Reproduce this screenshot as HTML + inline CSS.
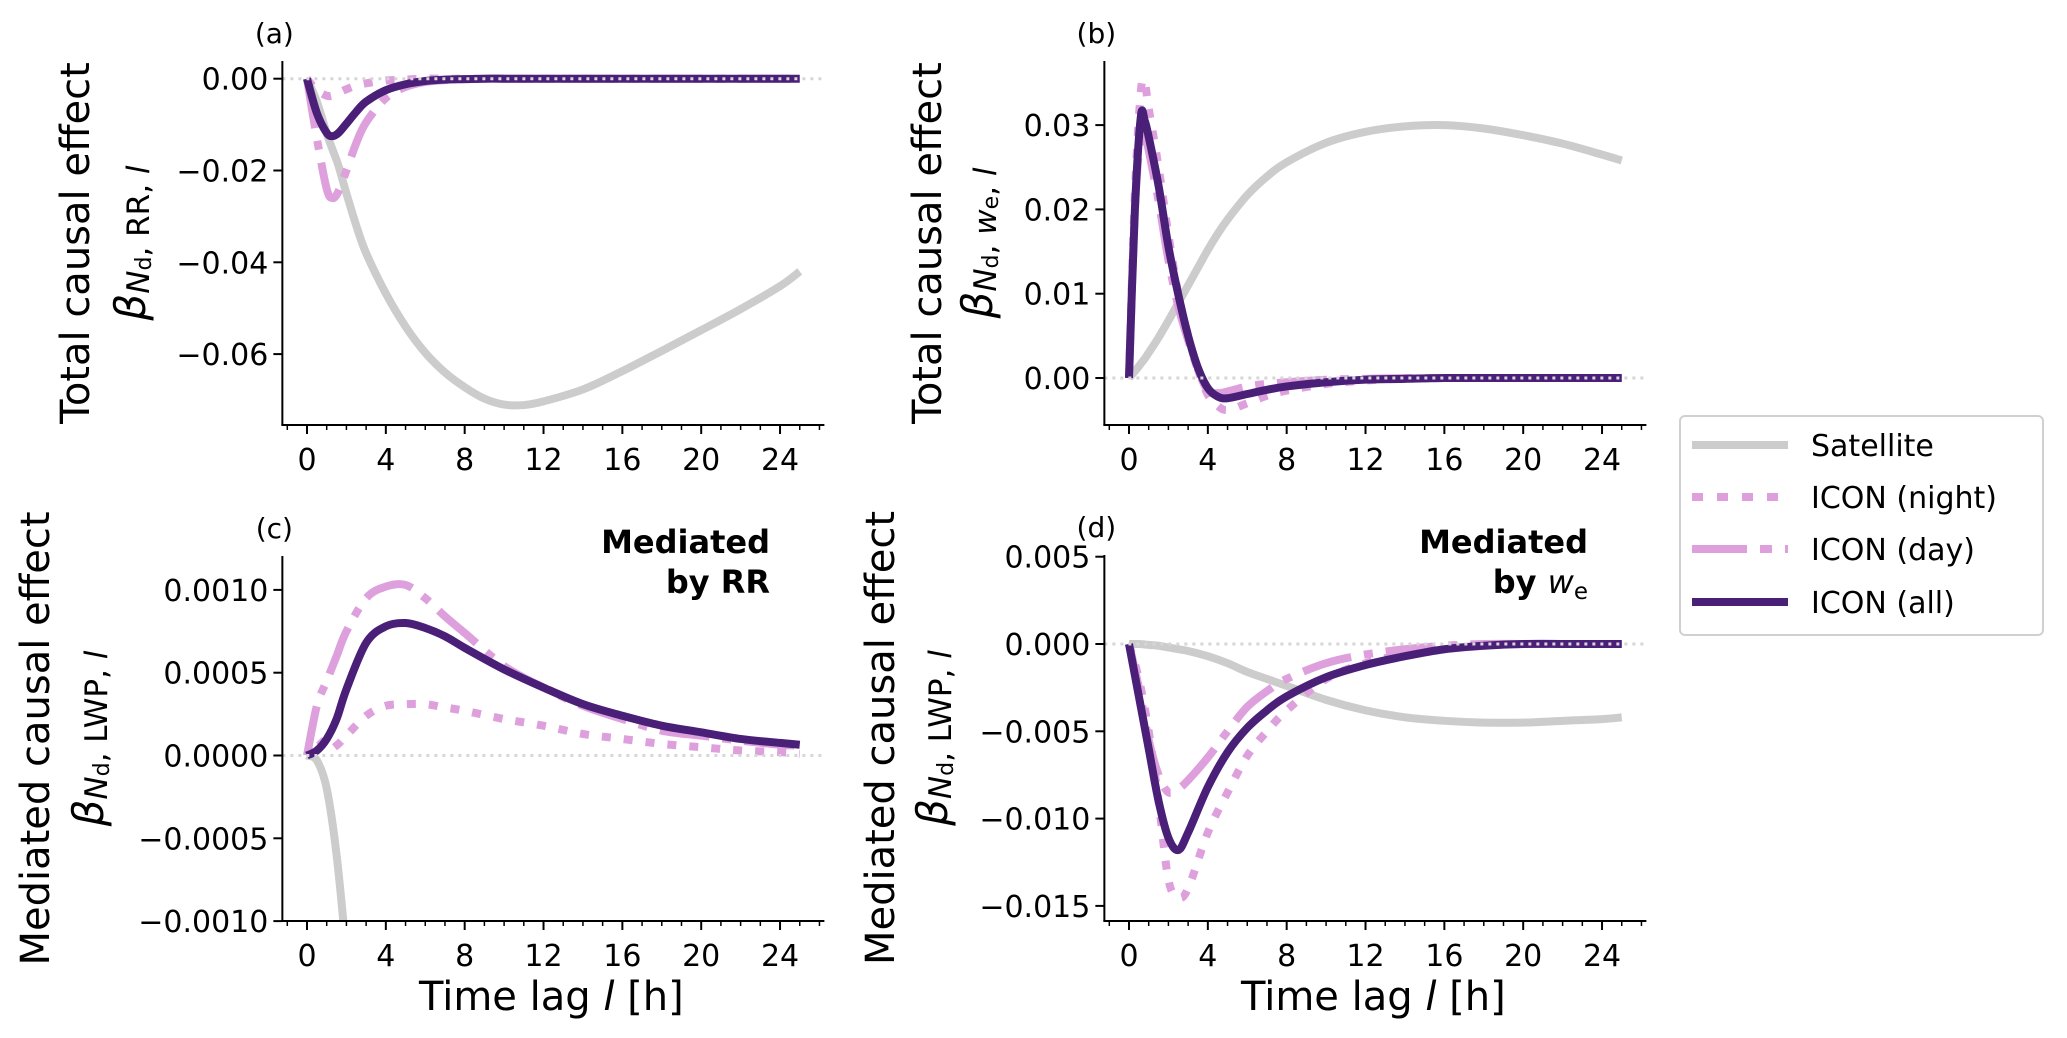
<!DOCTYPE html>
<html><head><meta charset="utf-8"><title>Causal effect panels</title>
<style>
html,body{margin:0;padding:0;background:#fff;overflow:hidden;width:2067px;height:1038px;}
svg{display:block;font-family:"DejaVu Sans","Liberation Sans",sans-serif;}
</style></head>
<body>
<svg id="fig" width="2067" height="1038" viewBox="0 0 2067 1038" xmlns="http://www.w3.org/2000/svg"></svg>
<script>
// ---- Data ----
const seriesNames = ["Satellite", "ICON (night)", "ICON (day)", "ICON (all)"];
const xTicks = [0, 4, 8, 12, 16, 20, 24];

const lagsA = [0,0.5,1,1.3,1.6,2,2.5,3,4,5,6,7,8,9,10,11,12,14,16,18,20,22,24,25];
const satA  = [0,-0.005,-0.0119,-0.0155,-0.019,-0.025,-0.032,-0.038,-0.0468,-0.054,-0.0597,-0.064,-0.0672,-0.0697,-0.0710,-0.0711,-0.0703,-0.0677,-0.0637,-0.0593,-0.0548,-0.0502,-0.0452,-0.042];
const nightA= [0,-0.0025,-0.0037,-0.0037,-0.0031,-0.0023,-0.0015,-0.001,-0.0004,-0.0002,0,0,0,0,0,0,0,0,0,0,0,0,0,0];
const dayA  = [0,-0.013,-0.024,-0.026,-0.0245,-0.02,-0.014,-0.0095,-0.0042,-0.0018,-0.0007,-0.0003,-0.0001,0,0,0,0,0,0,0,0,0,0,0];
const allA  = [0,-0.0075,-0.0118,-0.0125,-0.0118,-0.0098,-0.0072,-0.005,-0.0025,-0.0012,-0.0005,-0.0002,-0.0001,0,0,0,0,0,0,0,0,0,0,0];
const yTicksA = [0, -0.02, -0.04, -0.06];
const yLabelsA = ["0.00","\u22120.02","\u22120.04","\u22120.06"];

const lagsB = [0,0.3,0.6,0.8,1,1.5,2,2.5,3,3.5,4,4.5,5,6,7,8,10,12,14,16,18,20,22,24,25];
const satB  = [0,0.0008,0.0017,0.0023,0.003,0.0048,0.0068,0.0089,0.011,0.0131,0.0152,0.0171,0.0188,0.0217,0.0239,0.0256,0.0279,0.0292,0.02985,0.0300,0.0296,0.0288,0.0278,0.0265,0.0258];
const nightB= [0,0.022,0.034,0.035,0.032,0.025,0.017,0.010,0.005,0.001,-0.002,-0.0033,-0.0038,-0.003,-0.0021,-0.0015,-0.0007,-0.0003,-0.0001,0,0,0,0,0,0];
const dayB  = [0,0.02,0.029,0.029,0.027,0.021,0.014,0.0085,0.0045,0.001,-0.0015,-0.0018,-0.0016,-0.001,-0.0007,-0.0005,-0.0002,-0.0001,0,0,0,0,0,0,0];
const allB  = [0,0.02,0.031,0.0305,0.0286,0.0228,0.0156,0.0099,0.005,0.0012,-0.0012,-0.0022,-0.0024,-0.0019,-0.0014,-0.001,-0.0005,-0.0002,-0.0001,0,0,0,0,0,0];
const yTicksB = [0, 0.01, 0.02, 0.03];
const yLabelsB = ["0.00","0.01","0.02","0.03"];

const lagsC = [0,0.5,1,1.5,2,3,4,5,6,7,8,10,12,14,16,18,20,22,24,25];
const satC  = [0,-0.00003,-0.0002,-0.0006,-0.0012,-0.0025,-0.0035,-0.004,-0.0042,-0.0042,-0.0041,-0.0038,-0.0034,-0.003,-0.0026,-0.0022,-0.0019,-0.0016,-0.0013,-0.0012];
const nightC= [0,0.0001,0.00003,0.00006,0.00012,0.00024,0.0003,0.00031,0.00031,0.00029,0.00027,0.00022,0.00018,0.00013,0.0001,0.00007,0.00005,0.00003,0.00002,0.00001];
const dayC  = [0,0.0003,0.00045,0.0006,0.00075,0.00095,0.00102,0.00103,0.00095,0.00084,0.00074,0.00054,0.00041,0.0003,0.00022,0.00015,0.00012,0.00009,0.000065,0.00006];
const allC  = [0,0.00003,0.0001,0.00022,0.0004,0.00068,0.00078,0.0008,0.00077,0.00072,0.00065,0.00052,0.00041,0.00031,0.00024,0.00018,0.00014,0.0001,0.000076,0.000065];
const yTicksC = [0.001, 0.0005, 0, -0.0005, -0.001];
const yLabelsC = ["0.0010","0.0005","0.0000","\u22120.0005","\u22120.0010"];

const lagsD = [0,0.5,1,1.5,2,2.5,3,4,5,6,7,8,10,12,14,16,18,20,22,24,25];
const satD  = [0,0,-0.00005,-0.0001,-0.0002,-0.0003,-0.0004,-0.0007,-0.0011,-0.0016,-0.002,-0.0024,-0.0032,-0.0038,-0.0042,-0.0044,-0.0045,-0.0045,-0.0044,-0.0043,-0.0042];
const nightD= [0,-0.002,-0.005,-0.009,-0.0135,-0.0145,-0.014,-0.0108,-0.0085,-0.0064,-0.005,-0.0038,-0.002,-0.0011,-0.0006,-0.0003,-0.0001,0,0,0,0];
const dayD  = [0,-0.0025,-0.0055,-0.0075,-0.0085,-0.0083,-0.0078,-0.0065,-0.005,-0.0036,-0.0027,-0.002,-0.0011,-0.0006,-0.0003,-0.0001,0,0,0,0,0];
const allD  = [0,-0.003,-0.006,-0.009,-0.0111,-0.0118,-0.0108,-0.0082,-0.0062,-0.0048,-0.0038,-0.003,-0.0019,-0.0012,-0.0007,-0.0003,-0.0001,0,0,0,0];
const yTicksD = [0.005, 0, -0.005, -0.01, -0.015];
const yLabelsD = ["0.005","0.000","\u22120.005","\u22120.010","\u22120.015"];

// ---- Drawing ----
const NS = "http://www.w3.org/2000/svg";
const svg = document.getElementById("fig");
function mk(tag, attrs, parent) {
  const e = document.createElementNS(NS, tag);
  for (const k in attrs) e.setAttribute(k, attrs[k]);
  (parent || svg).appendChild(e);
  return e;
}
const styles = [
  {color:"#cccccc", dash:null},
  {color:"#dda0dd", dash:"9 13"},
  {color:"#dda0dd", dash:"50 13 9 13"},
  {color:"#4a1f78", dash:null}
];
const keys = ["satellite","icon-night","icon-day","icon-all"];

function smoothPath(pts) {
  let d = "M" + pts[0][0].toFixed(2) + "," + pts[0][1].toFixed(2);
  for (let i = 0; i < pts.length - 1; i++) {
    const p0 = pts[Math.max(0, i-1)], p1 = pts[i], p2 = pts[i+1], p3 = pts[Math.min(pts.length-1, i+2)];
    const t = 1/6;
    const c1 = [p1[0] + (p2[0]-p0[0])*t, p1[1] + (p2[1]-p0[1])*t];
    const c2 = [p2[0] - (p3[0]-p1[0])*t, p2[1] - (p3[1]-p1[1])*t];
    d += " C" + c1[0].toFixed(2)+","+c1[1].toFixed(2)+" "+c2[0].toFixed(2)+","+c2[1].toFixed(2)+" "+p2[0].toFixed(2)+","+p2[1].toFixed(2);
  }
  return d;
}

function panel(cfg) {
  const g = mk("g", {});
  
  
  const xs = h => cfg.x0 + h * 19.71;
  const ys = v => cfg.yZero - v * cfg.yScale;
  const left = cfg.x0 - 1.25*19.71, right = cfg.x0 + 26.25*19.71;
  const clipId = "clip-" + cfg.id;
  const cp = mk("clipPath", {id: clipId}, g);
  mk("rect", {x: left, y: cfg.top - 10, width: right-left+10, height: cfg.bottom - cfg.top + 10}, cp);
  const lines = mk("g", {"clip-path": "url(#" + clipId + ")"}, g);
  cfg.series.forEach((vals, si) => {
    const pts = cfg.lags.map((h, i) => [xs(h), ys(vals[i])]);
    const st = styles[si];
    const p = mk("path", {d: smoothPath(pts), fill: "none", stroke: st.color, "stroke-width": 8, "stroke-linejoin": "round"}, lines);
    if (st.dash) p.setAttribute("stroke-dasharray", st.dash);
    else p.setAttribute("stroke-linecap", "butt");
    
    
  });
  const zl = mk("line", {x1: left, x2: right, y1: ys(0), y2: ys(0), stroke: "#d6d6d6", "stroke-width": 3, "stroke-dasharray": "3 5"}, g);
  
  
  const ya = mk("line", {x1: left, x2: left, y1: cfg.top, y2: cfg.bottom, stroke: "#000", "stroke-width": 2}, g);
  
  
  const xa = mk("line", {x1: left - 1, x2: right, y1: cfg.bottom, y2: cfg.bottom, stroke: "#000", "stroke-width": 2}, g);
  
  
  for (let h = -1; h <= 26; h++) {
    const major = xTicks.indexOf(h) >= 0;
    mk("line", {x1: xs(h), x2: xs(h), y1: cfg.bottom, y2: cfg.bottom + (major ? 9 : 5), stroke: "#000", "stroke-width": major ? 2 : 1.5}, g);
  }
  xTicks.forEach(h => {
    const t = mk("text", {x: xs(h), y: cfg.bottom + 45, "font-size": 30, "text-anchor": "middle"}, g);
    t.textContent = String(h);
    
    
  });
  cfg.yTicks.forEach((v, i) => {
    mk("line", {x1: left - 9, x2: left, y1: ys(v), y2: ys(v), stroke: "#000", "stroke-width": 2}, g);
    const t = mk("text", {x: left - 14, y: ys(v) + 11, "font-size": 30, "text-anchor": "end"}, g);
    t.textContent = cfg.yLabels[i];
    
    
  });
  const pl = mk("text", {x: left - 8, y: cfg.top - 18, "font-size": 28, "text-anchor": "middle"}, g);
  pl.textContent = "(" + cfg.id + ")";
  
  
  const cy = (cfg.top + cfg.bottom) / 2;
  const yl = mk("text", {x: cfg.labX, y: cy, "font-size": 40, "text-anchor": "middle", "dominant-baseline": "central", transform: "rotate(-90 " + cfg.labX + " " + cy + ")"}, g);
  yl.textContent = cfg.yTitle;
  
  
  const bl = mk("text", {x: cfg.betaX, y: cy, "font-size": 42, "text-anchor": "middle", "dominant-baseline": "central", transform: "rotate(-90 " + cfg.betaX + " " + cy + ")"}, g);
  bl.innerHTML = '<tspan font-style="italic">β</tspan><tspan font-size="31" dy="9" font-style="italic">N</tspan><tspan font-size="22" dy="5">d</tspan><tspan font-size="31" dy="-5">, ' + cfg.betaSub + '</tspan>';
  
  
  if (cfg.xTitle) {
    const xt = mk("text", {x: (left + right)/2 - 2, y: 1010, "font-size": 40, "text-anchor": "middle"}, g);
    xt.innerHTML = 'Time lag <tspan font-style="italic">l</tspan> [h]';
    
    
  }
  if (cfg.med) {
    const m1 = mk("text", {x: cfg.medX, y: 553, "font-size": 32, "font-weight": "bold", "text-anchor": "end"}, g);
    m1.textContent = "Mediated";
    
    
    const m2 = mk("text", {x: cfg.medX, y: 593, "font-size": 32, "font-weight": "bold", "text-anchor": "end"}, g);
    m2.innerHTML = cfg.med;
    
    
  }
}

panel({id:"a", x0:307, yZero:78.7, yScale:4590, top:61, bottom:425, lags:lagsA, series:[satA,nightA,dayA,allA],
  yTicks:yTicksA, yLabels:yLabelsA, labX:76, betaX:130, yTitle:"Total causal effect", betaSub:'RR, <tspan font-style="italic">l</tspan>'});
panel({id:"b", x0:1129, yZero:378, yScale:8430, top:61, bottom:425, lags:lagsB, series:[satB,nightB,dayB,allB],
  yTicks:yTicksB, yLabels:yLabelsB, labX:928, betaX:977, yTitle:"Total causal effect", betaSub:'<tspan font-style="italic">w</tspan><tspan font-size="22" dy="5">e</tspan><tspan dy="-5">, </tspan><tspan font-style="italic">l</tspan>'});
panel({id:"c", x0:307, yZero:755.5, yScale:165600, top:556, bottom:921, lags:lagsC, series:[satC,nightC,dayC,allC],
  yTicks:yTicksC, yLabels:yLabelsC, labX:36, betaX:88, yTitle:"Mediated causal effect", betaSub:'LWP, <tspan font-style="italic">l</tspan>', xTitle:true, med:"by RR", medX:770});
panel({id:"d", x0:1129, yZero:644, yScale:17460, top:555, bottom:921, lags:lagsD, series:[satD,nightD,dayD,allD],
  yTicks:yTicksD, yLabels:yLabelsD, labX:881, betaX:932, yTitle:"Mediated causal effect", betaSub:'LWP, <tspan font-style="italic">l</tspan>', xTitle:true, med:'by <tspan font-weight="normal" font-style="italic">w</tspan><tspan font-weight="normal" font-size="23" dy="6">e</tspan>', medX:1588});

// legend
const lg = mk("g", {});


mk("rect", {x:1680, y:416, width:363, height:219, rx:5, fill:"#fff", stroke:"#d0d0d0", "stroke-width":2}, lg);
const rowY = [445, 497, 549, 602];
seriesNames.forEach((n, i) => {
  const e = mk("g", {}, lg);
  
  
  const l = mk("line", {x1:1692, x2:1788, y1:rowY[i], y2:rowY[i], stroke:styles[i].color, "stroke-width":8}, e);
  if (styles[i].dash) l.setAttribute("stroke-dasharray", i === 1 ? "11 14" : "55 13 12 13");
  const t = mk("text", {x:1811, y:rowY[i] + 11, "font-size":30}, e);
  t.textContent = n;
});
</script>
</body></html>
